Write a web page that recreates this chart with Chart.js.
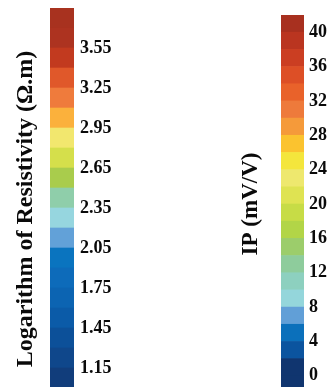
<!DOCTYPE html>
<html>
<head>
<meta charset="utf-8">
<script src="https://cdn.jsdelivr.net/npm/chart.js@4"></script>
<style>
  html, body { margin: 0; padding: 0; background: #fff; overflow: hidden; width: 330px; height: 387px; }
  canvas { position: absolute; top: 0; }
  #resChart { left: 0; }
  #ipChart { left: 200px; }
</style>
</head>
<body>
<canvas id="resChart" width="120" height="420"></canvas>
<canvas id="ipChart" width="130" height="400"></canvas>
<script>
// colour bar 1: log resistivity, class breaks bottom -> top
const resBreaks = [1.00, 1.15, 1.30, 1.45, 1.60, 1.75, 1.90, 2.05, 2.20, 2.35, 2.50, 2.65, 2.80, 2.95, 3.10, 3.25, 3.40, 3.55, 3.70, 3.85];
const resColors = ['#113d7b', '#0f478b', '#0c5099', '#0b5ba8', '#0c64b2', '#0d6bba', '#0a74bf', '#62a1d8', '#96d6df', '#8fceaa',
                   '#a9cc4c', '#d5df4b', '#f2e76e', '#fbb13c', '#ef7b3c', '#e0582a', '#c23a1f', '#ad3320', '#a8321f'];
const resTicks = [1.15, 1.45, 1.75, 2.05, 2.35, 2.65, 2.95, 3.25, 3.55];
const resTickLabels = ['1.15', '1.45', '1.75', '2.05', '2.35', '2.65', '2.95', '3.25', '3.55'];

// colour bar 2: IP (mV/V)
const ipBreaks = [-2, 0, 2, 4, 6, 8, 10, 12, 14, 16, 18, 20, 22, 24, 26, 28, 30, 32, 34, 36, 38, 40, 42];
const ipColors = ['#10356f', '#10356f', '#0b549f', '#0b70bb', '#619fd7', '#94d6db', '#8dd0bf', '#8ecc9c', '#9ccd6b', '#b2d547', '#c7dc46',
                  '#dfe352', '#eee86e', '#f4e63c', '#fbc32f', '#f59a3a', '#ee7a3b', '#e9622a', '#dd4f26', '#cb3e22', '#ba3520', '#a8301f'];
const ipTicks = [0, 4, 8, 12, 16, 20, 24, 28, 32, 36, 40];
const ipTickLabels = ['0', '4', '8', '12', '16', '20', '24', '28', '32', '36', '40'];

const serif = '"Liberation Serif", "Times New Roman", serif';

function colorBar(id, breaks, colors, ticks, tickLabels, cfg) {
  const datasets = colors.map((c, i) => ({
    data: [[breaks[i], breaks[i + 1]]],
    backgroundColor: c,
    borderWidth: 0,
    grouped: false,
    barPercentage: 1,
    categoryPercentage: 1,
    yAxisID: 'y'
  }));
  return new Chart(document.getElementById(id), {
    type: 'bar',
    data: { labels: [''], datasets: datasets },
    options: {
      responsive: false,
      animation: false,
      devicePixelRatio: 1,
      layout: { padding: { top: cfg.top, bottom: cfg.bottom, left: 0, right: 0 } },
      plugins: { legend: { display: false }, tooltip: { enabled: false } },
      scales: {
        x: { display: false },
        yTitle: {
          position: 'left',
          min: cfg.min, max: cfg.max,
          grid: { display: false, drawTicks: false },
          border: { display: false },
          ticks: { display: false },
          title: {
            display: true,
            text: cfg.title,
            color: '#0a0a0a',
            font: { family: serif, size: cfg.titleSize, weight: 'bold', lineHeight: 1 },
            padding: { top: cfg.titlePad, bottom: 0 }
          },
          afterFit: s => { s.width = cfg.barLeft; s.paddingTop = 0; s.paddingBottom = 0; }
        },
        y: {
          position: 'right',
          min: cfg.min, max: cfg.max,
          grid: { display: false, drawTicks: false },
          border: { display: false },
          afterBuildTicks: s => { s.ticks = ticks.map(v => ({ value: v })); },
          ticks: {
            padding: cfg.tickPad,
            color: '#0a0a0a',
            font: { family: serif, size: 18, weight: 'bold' },
            callback: v => tickLabels[ticks.indexOf(v)]
          },
          afterFit: s => { s.width = cfg.axisWidth; s.paddingTop = 0; s.paddingBottom = 0; }
        }
      }
    }
  });
}

colorBar('resChart', resBreaks, resColors, resTicks, resTickLabels, {
  title: 'Logarithm of Resistivity (Ω.m)', titleSize: 24, titlePad: 14, tickPad: 6,
  min: 0.835, max: 3.85, top: 8, bottom: 10, barLeft: 50, axisWidth: 46
});

colorBar('ipChart', ipBreaks, ipColors, ipTicks, ipTickLabels, {
  title: 'IP (mV/V)', titleSize: 23, titlePad: 40, tickPad: 5,
  min: -2, max: 42, top: 15, bottom: 7, barLeft: 81, axisWidth: 26
});
</script>
</body>
</html>
